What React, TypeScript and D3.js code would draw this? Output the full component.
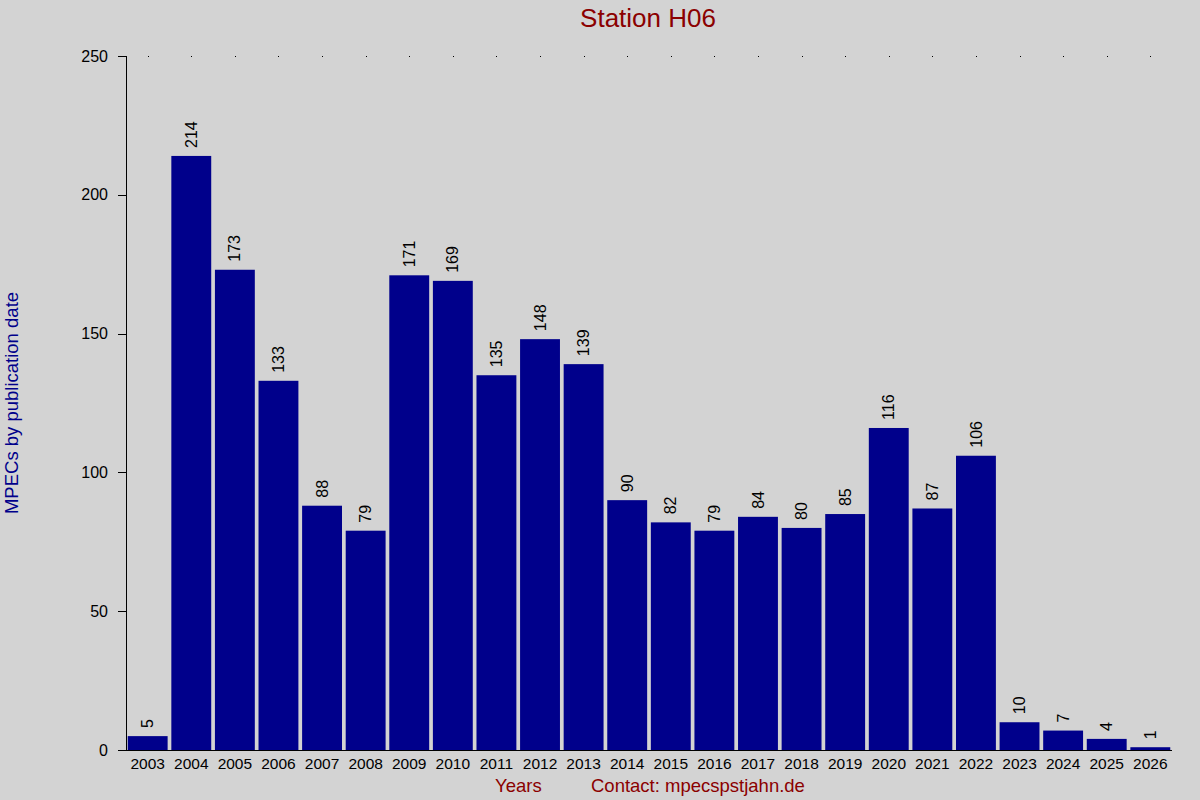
import React, { useEffect, useRef } from 'react';
import * as d3 from 'd3';

// values
const years = [
  '2003', '2004', '2005', '2006', '2007', '2008', '2009', '2010', '2011', '2012', '2013', '2014',
  '2015', '2016', '2017', '2018', '2019', '2020', '2021', '2022', '2023', '2024', '2025', '2026',
];
const counts = [5, 214, 173, 133, 88, 79, 171, 169, 135, 148, 139, 90, 82, 79, 84, 80, 85, 116, 87, 106, 10, 7, 4, 1];
const yTicks = [0, 50, 100, 150, 200, 250];

const W = 1200;
const H = 800;
const FONT = '"Liberation Sans", Arial, sans-serif';

const App: React.FC = () => {
  const svgRef = useRef<SVGSVGElement>(null);

  useEffect(() => {
    if (!svgRef.current) {return;}
    const svg = d3.select(svgRef.current);
    svg.selectAll('*').remove();

    const left = 126;
    const right = 1172;
    const top = 56;
    const bottom = 750;

    const x = d3.scaleBand<string>()
      .domain(years)
      .range([left, right])
      .paddingInner(0.085)
      .paddingOuter(0.04);
    const y = d3.scaleLinear().domain([0, 250]).range([bottom, top]);

    const data = years.map((yr, i) => ({ yr, v: counts[i] }));

    // 背景
    svg.append('rect').attr('width', W).attr('height', H).attr('fill', '#d3d3d3');

    // 标题
    svg.append('text')
      .attr('x', 648).attr('y', 27)
      .attr('text-anchor', 'middle')
      .attr('font-family', FONT).attr('font-size', 26)
      .attr('fill', '#8b0000')
      .text('Station H06');

    // top dots at each band centre
    svg.selectAll('.dot')
      .data(data)
      .enter()
      .append('rect')
      .attr('class', 'dot')
      .attr('x', d => Math.round((x(d.yr) || 0) + x.bandwidth() / 2))
      .attr('y', top)
      .attr('width', 1).attr('height', 1)
      .attr('fill', '#000');

    // 柱子
    svg.selectAll('.bar')
      .data(data)
      .enter()
      .append('rect')
      .attr('class', 'bar')
      .attr('x', d => x(d.yr) || 0)
      .attr('y', d => y(d.v))
      .attr('width', x.bandwidth())
      .attr('height', d => bottom - y(d.v))
      .attr('fill', '#00008b');

    // value labels, rotated
    svg.selectAll('.val')
      .data(data)
      .enter()
      .append('text')
      .attr('class', 'val')
      .attr('transform', d => `translate(${(x(d.yr) || 0) + x.bandwidth() / 2}, ${y(d.v) - 8}) rotate(-90)`)
      .attr('dy', '0.35em')
      .attr('font-family', FONT).attr('font-size', 16)
      .attr('fill', '#000')
      .text(d => d.v);

    // axes
    const axis = svg.append('g').attr('stroke', '#000').attr('stroke-width', 1);
    axis.append('line')
      .attr('x1', left + 0.5).attr('x2', left + 0.5)
      .attr('y1', top).attr('y2', bottom);
    axis.append('line')
      .attr('x1', 118).attr('x2', right)
      .attr('y1', bottom + 0.5).attr('y2', bottom + 0.5);
    axis.selectAll('.ytick')
      .data(yTicks)
      .enter()
      .append('line')
      .attr('class', 'ytick')
      .attr('x1', 118).attr('x2', left)
      .attr('y1', d => Math.round(y(d)) + 0.5)
      .attr('y2', d => Math.round(y(d)) + 0.5);

    svg.selectAll('.ylab')
      .data(yTicks)
      .enter()
      .append('text')
      .attr('class', 'ylab')
      .attr('x', 108)
      .attr('y', d => y(d))
      .attr('dy', '0.35em')
      .attr('text-anchor', 'end')
      .attr('font-family', FONT).attr('font-size', 16)
      .attr('fill', '#000')
      .text(d => d);

    svg.selectAll('.xlab')
      .data(years)
      .enter()
      .append('text')
      .attr('class', 'xlab')
      .attr('x', d => (x(d) || 0) + x.bandwidth() / 2)
      .attr('y', 769)
      .attr('text-anchor', 'middle')
      .attr('font-family', FONT).attr('font-size', 15.5)
      .attr('fill', '#000')
      .text(d => d);

    // axis titles
    svg.append('text')
      .attr('transform', 'translate(18, 403) rotate(-90)')
      .attr('text-anchor', 'middle')
      .attr('font-family', FONT).attr('font-size', 18.5)
      .attr('fill', '#00008b')
      .text('MPECs by publication date');

    svg.append('text')
      .attr('x', 495).attr('y', 792)
      .attr('font-family', FONT).attr('font-size', 18.5)
      .attr('fill', '#8b0000')
      .text('Years');

    svg.append('text')
      .attr('x', 591).attr('y', 792)
      .attr('font-family', FONT).attr('font-size', 18.5)
      .attr('fill', '#8b0000')
      .text('Contact: mpecspstjahn.de');
  }, []);

  return (
    <div style={{ position: 'fixed', left: 0, top: 0, width: W, height: H }}>
      <svg ref={svgRef} width={W} height={H} style={{ display: 'block' }} />
    </div>
  );
};

export default App;
